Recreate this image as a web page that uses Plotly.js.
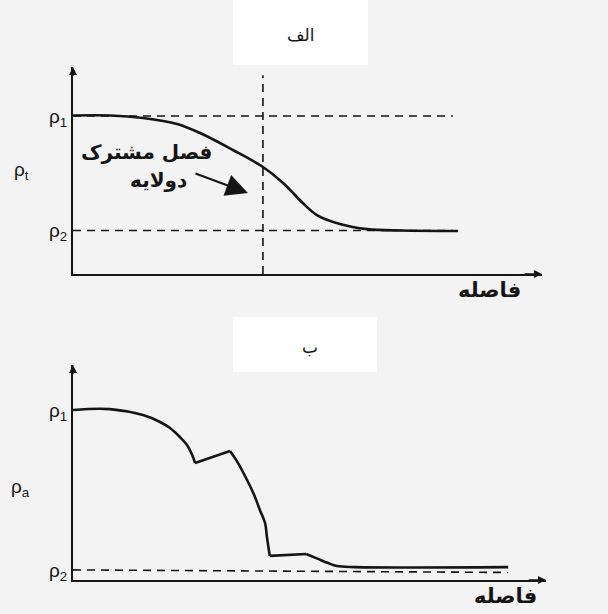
<!DOCTYPE html>
<html>
<head>
<meta charset="utf-8">
<script src="https://cdn.plot.ly/plotly-3.0.1.min.js"></script>
<style>html,body{margin:0;padding:0;background:#f3f3f3;}#chart{width:608px;height:614px;}</style>
</head>
<body>
<div id="chart"></div>
<script>
// ---- Panel الف (true resistivity across a two-layer contact) ----
const trueX = [0, 0.79, 1.49, 2.22, 2.71, 3.41, 4.05, 4.48, 4.90, 5.20, 5.69, 6.27, 7.0, 8.21];
const trueY = [7.66, 7.66, 7.54, 7.25, 6.81, 5.99, 5.17, 4.40, 3.43, 2.85, 2.42, 2.17, 2.1, 2.08];
const rho1Top = 7.63;
const rho2Top = 2.1;
const contactX = 4.05;
const contactTop = 9.6;
const dashEndTop = 8.1;

// ---- Panel ب (apparent resistivity), read in pieces between the kinks ----
const appArc1X = [0, 0.78, 1.48, 1.84, 2.05, 2.26, 2.41, 2.52, 2.58];
const appArc1Y = [7.91, 7.95, 7.67, 7.35, 7.07, 6.65, 6.28, 5.81, 5.44];
const appRiseX = [2.58, 3.32];
const appRiseY = [5.44, 6.0];
const appArc2X = [3.32, 3.49, 3.68, 3.83, 3.95, 4.06, 4.10, 4.14, 4.16];
const appArc2Y = [6.0, 5.44, 4.65, 3.95, 3.26, 2.65, 2.0, 1.40, 1.12];
const appStepX = [4.16, 4.93];
const appStepY = [1.12, 1.21];
const appTailX = [4.93, 5.18, 5.39, 5.58, 5.96, 9.20];
const appTailY = [1.21, 0.98, 0.79, 0.65, 0.60, 0.60];
const rho1Bot = 7.91;
const rho2Bot = 0.47;
const dashEndBot = 9.2;

const tickTextTop = ['ρ<sub>1</sub>', 'ρ<sub>2</sub>'];
const tickTextBot = ['ρ<sub>1</sub>', 'ρ<sub>2</sub>'];
const titleTop = 'الف';
const titleBot = 'ب';
const xTitle = 'فاصله';
const yTitleTop = 'ρ<sub>t</sub>';
const yTitleBot = 'ρ<sub>a</sub>';
const labelContact1 = 'فصل مشترک';
const labelContact2 = 'دولایه';

const ink = '#151515';
const fa = 'DejaVu Sans, sans-serif';
const lat = 'Liberation Sans, Arial, sans-serif';

const dashStyle = {color: ink, width: 1.6, dash: '8px,6px'};
const curveSpline = {color: ink, width: 2.6, shape: 'spline', smoothing: 1};
const curveLinear = {color: ink, width: 2.6, shape: 'linear'};

const traces = [
  {x: [0, dashEndTop], y: [rho1Top, rho1Top], xaxis: 'x', yaxis: 'y', mode: 'lines', line: dashStyle},
  {x: [0, dashEndTop], y: [rho2Top, rho2Top], xaxis: 'x', yaxis: 'y', mode: 'lines', line: dashStyle},
  {x: [contactX, contactX], y: [0, contactTop], xaxis: 'x', yaxis: 'y', mode: 'lines', line: dashStyle},
  {x: trueX, y: trueY, xaxis: 'x', yaxis: 'y', mode: 'lines', line: curveSpline},
  {x: [0, dashEndBot], y: [rho2Bot, rho2Bot - 0.12], xaxis: 'x2', yaxis: 'y2', mode: 'lines', line: dashStyle},
  {x: appArc1X, y: appArc1Y, xaxis: 'x2', yaxis: 'y2', mode: 'lines', line: curveSpline},
  {x: appRiseX, y: appRiseY, xaxis: 'x2', yaxis: 'y2', mode: 'lines', line: curveLinear},
  {x: appArc2X, y: appArc2Y, xaxis: 'x2', yaxis: 'y2', mode: 'lines', line: curveSpline},
  {x: appStepX, y: appStepY, xaxis: 'x2', yaxis: 'y2', mode: 'lines', line: curveLinear},
  {x: appTailX, y: appTailY, xaxis: 'x2', yaxis: 'y2', mode: 'lines', line: curveSpline}
];

const axBase = {range: [0, 10], showgrid: false, zeroline: false, showline: true, linecolor: ink, linewidth: 2, fixedrange: true};

function note(text, x, y, font, xref, yref) {
  return {text: text, xref: xref || 'paper', yref: yref || 'paper', x: x, y: y,
          xanchor: 'center', yanchor: 'middle', showarrow: false, font: font};
}
function tip(xr, yr, x, y, ax, ay, size, width) {
  return {text: '', xref: xr, yref: yr, x: x, y: y, axref: xr, ayref: yr, ax: ax, ay: ay,
          showarrow: true, arrowhead: 2, arrowsize: size, arrowwidth: width, arrowcolor: ink};
}

const layout = {
  width: 608, height: 614,
  margin: {l: 0, r: 0, t: 0, b: 0},
  paper_bgcolor: '#f3f3f3',
  plot_bgcolor: 'rgba(0,0,0,0)',
  showlegend: false,
  xaxis: Object.assign({}, axBase, {domain: [0.1201, 0.8914], anchor: 'y', showticklabels: false, ticks: ''}),
  yaxis: Object.assign({}, axBase, {domain: [0.5537, 0.8909], anchor: 'x', tickvals: [rho1Top, rho2Top], ticktext: tickTextTop, ticks: '', tickfont: {family: lat, size: 19, color: ink}}),
  xaxis2: Object.assign({}, axBase, {domain: [0.1201, 0.898], anchor: 'y2', showticklabels: false, ticks: ''}),
  yaxis2: Object.assign({}, axBase, {domain: [0.0554, 0.4055], anchor: 'x2', tickvals: [rho1Bot, rho2Bot], ticktext: tickTextBot, ticks: '', tickfont: {family: lat, size: 19, color: ink}}),
  shapes: [
    {type: 'rect', xref: 'paper', yref: 'paper', x0: 233/608, x1: 368/608, y0: 1 - 65/614, y1: 1, fillcolor: '#ffffff', line: {width: 0}, layer: 'below'},
    {type: 'rect', xref: 'paper', yref: 'paper', x0: 233/608, x1: 377/608, y0: 1 - 372/614, y1: 1 - 317/614, fillcolor: '#ffffff', line: {width: 0}, layer: 'below'}
  ],
  annotations: [
    note(titleTop, 301/608, 1 - 35/614, {family: fa, size: 17, color: ink}),
    note(titleBot, 310/608, 1 - 347/614, {family: fa, size: 17, color: ink}),
    note('<b>' + xTitle + '</b>', 489/608, 1 - 290/614, {family: fa, size: 21, color: ink}),
    note('<b>' + xTitle + '</b>', 505/608, 1 - 596/614, {family: fa, size: 21, color: ink}),
    note(yTitleTop, 21/608, 1 - 171/614, {family: lat, size: 19, color: ink}),
    note(yTitleBot, 20/608, 1 - 488/614, {family: lat, size: 19, color: ink}),
    note('<b>' + labelContact1 + '</b>', 1.56, 5.89, {family: fa, size: 20, color: ink}, 'x', 'y'),
    note('<b>' + labelContact2 + '</b>', 1.83, 4.54, {family: fa, size: 20, color: ink}, 'x', 'y'),
    tip('x', 'y', 3.73, 3.91, 2.58, 4.88, 2, 2.2),
    // axis arrow tips
    tip('x', 'y', 0, 10, 0, 9.5, 1, 1.6),
    tip('x', 'y', 10, 0, 9.6, 0, 1, 1.6),
    tip('x2', 'y2', 0, 10, 0, 9.5, 1, 1.6),
    tip('x2', 'y2', 10, 0, 9.6, 0, 1, 1.6)
  ]
};

Plotly.newPlot('chart', traces, layout, {displayModeBar: false, staticPlot: true});
</script>
</body>
</html>
